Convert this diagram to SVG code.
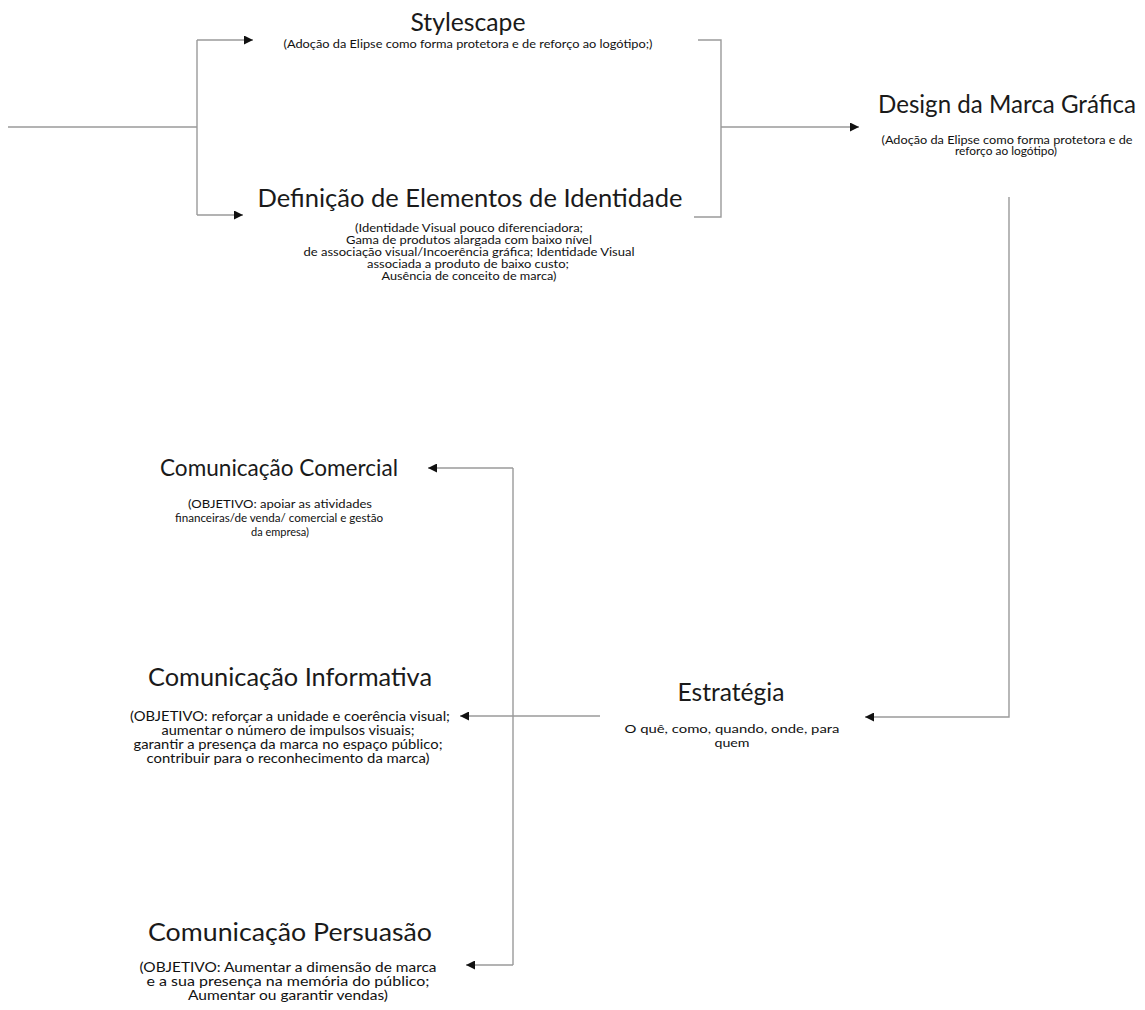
<svg xmlns="http://www.w3.org/2000/svg" width="1145" height="1010" viewBox="0 0 1145 1010">
<style>
.t{font-family:Lato,"Open Sans",sans-serif;font-size:25px;fill:#1a1a1a;text-anchor:middle}
.s{font-family:Lato,"Open Sans",sans-serif;font-size:11px;fill:#111;text-anchor:middle}
.m{font-size:12.5px}
.c{fill:none;stroke:#9a9a9a;stroke-width:1.4}
</style>
<defs>
<marker id="ar" viewBox="0 0 10 10" refX="10" refY="5" markerWidth="9" markerHeight="9" markerUnits="userSpaceOnUse" orient="auto">
<path d="M0,0 L10,5 L0,10 z" fill="#111"/>
</marker>
</defs>
<rect width="1145" height="1010" fill="#fff"/>
<g id="connectors">
<path class="c" d="M8 127 H197"/>
<path class="c" d="M197 40 V215"/>
<path class="c" d="M197 40 H253" marker-end="url(#ar)"/>
<path class="c" d="M197 215 H243" marker-end="url(#ar)"/>
<path class="c" d="M698 40 H721 V217 H694"/>
<path class="c" d="M721 127 H859" marker-end="url(#ar)"/>
<path class="c" d="M1009 197 V717 H865" marker-end="url(#ar)"/>
<path class="c" d="M600 716 H460" marker-end="url(#ar)"/>
<path class="c" d="M513 468 V965"/>
<path class="c" d="M513 468 H428" marker-end="url(#ar)"/>
<path class="c" d="M513 965 H466" marker-end="url(#ar)"/>
</g>
<g id="stylescape">
<text class="t" x="468" y="31" textLength="115" lengthAdjust="spacingAndGlyphs">Stylescape</text>
<text class="s" x="468" y="48" textLength="369" lengthAdjust="spacingAndGlyphs">(Adoção da Elipse como forma protetora e de reforço ao logótipo;)</text>
</g>
<g id="definicao">
<text class="t" x="470" y="207" textLength="425" lengthAdjust="spacingAndGlyphs">Definição de Elementos de Identidade</text>
<text class="s" x="469" y="232" textLength="228" lengthAdjust="spacingAndGlyphs">(Identidade Visual pouco diferenciadora;</text>
<text class="s" x="469" y="244" textLength="246" lengthAdjust="spacingAndGlyphs">Gama de produtos alargada com baixo nível</text>
<text class="s" x="469" y="256" textLength="331" lengthAdjust="spacingAndGlyphs">de associação visual/Incoerência gráfica; Identidade Visual</text>
<text class="s" x="468" y="268" textLength="202" lengthAdjust="spacingAndGlyphs">associada a produto de baixo custo;</text>
<text class="s" x="469" y="280" textLength="175" lengthAdjust="spacingAndGlyphs">Ausência de conceito de marca)</text>
</g>
<g id="design">
<text class="t" x="1007" y="113" textLength="258" lengthAdjust="spacingAndGlyphs">Design da Marca Gráfica</text>
<text class="s" x="1007" y="144" textLength="251" lengthAdjust="spacingAndGlyphs">(Adoção da Elipse como forma protetora e de</text>
<text class="s" x="1006" y="155" textLength="102" lengthAdjust="spacingAndGlyphs">reforço ao logótipo)</text>
</g>
<g id="comercial">
<text class="t" x="279" y="476" style="font-size:23px" textLength="238" lengthAdjust="spacingAndGlyphs">Comunicação Comercial</text>
<text class="s" x="280" y="508" textLength="184" lengthAdjust="spacingAndGlyphs">(OBJETIVO: apoiar as atividades</text>
<text class="s" x="279" y="522" textLength="208" lengthAdjust="spacingAndGlyphs">financeiras/de venda/ comercial e gestão</text>
<text class="s" x="280" y="536">da empresa)</text>
</g>
<g id="informativa">
<text class="t" x="290" y="686" textLength="284" lengthAdjust="spacingAndGlyphs">Comunicação Informativa</text>
<text class="s m" x="290" y="721" textLength="320" lengthAdjust="spacingAndGlyphs">(OBJETIVO: reforçar a unidade e coerência visual;</text>
<text class="s m" x="288" y="735" textLength="253" lengthAdjust="spacingAndGlyphs">aumentar o número de impulsos visuais;</text>
<text class="s m" x="288" y="749" textLength="309" lengthAdjust="spacingAndGlyphs">garantir a presença da marca no espaço público;</text>
<text class="s m" x="288" y="763" textLength="283" lengthAdjust="spacingAndGlyphs">contribuir para o reconhecimento da marca)</text>
</g>
<g id="estrategia">
<text class="t" x="731" y="701" textLength="107" lengthAdjust="spacingAndGlyphs">Estratégia</text>
<text class="s" x="732" y="733" style="font-size:12px" textLength="215" lengthAdjust="spacingAndGlyphs">O quê, como, quando, onde, para</text>
<text class="s" x="732" y="747" style="font-size:12px" textLength="35" lengthAdjust="spacingAndGlyphs">quem</text>
</g>
<g id="persuasao">
<text class="t" x="290" y="941" textLength="284" lengthAdjust="spacingAndGlyphs">Comunicação Persuasão</text>
<text class="s m" x="288" y="972" textLength="297" lengthAdjust="spacingAndGlyphs">(OBJETIVO: Aumentar a dimensão de marca</text>
<text class="s m" x="288" y="986" textLength="283" lengthAdjust="spacingAndGlyphs">e a sua presença na memória do público;</text>
<text class="s m" x="288" y="1000" textLength="200" lengthAdjust="spacingAndGlyphs">Aumentar ou garantir vendas)</text>
</g>
</svg>
